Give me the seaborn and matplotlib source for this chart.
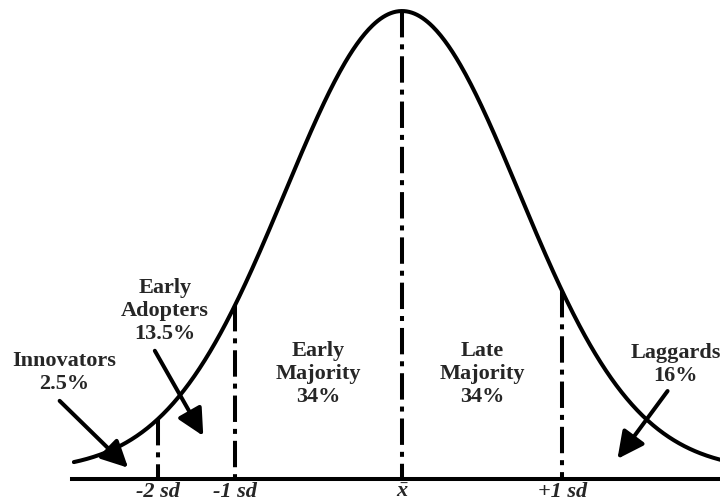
import numpy as np
import matplotlib
matplotlib.use("Agg")
import matplotlib.pyplot as plt
import seaborn as sns

# adopter categories (Rogers diffusion curve)
group_labels = ["Innovators\n2.5%", "Early\nAdopters\n13.5%", "Early\nMajority\n34%",
                "Late\nMajority\n34%", "Laggards\n16%"]
group_x = [-2.02, -1.42, -0.50, 0.48, 1.64]
group_y = [0.227, 0.360, 0.225, 0.225, 0.244]

# boundary marks on the axis (in "label sd" units)
mark_x = [-1.46, -1.0, 0.0, 0.96]
mark_labels = ["-2 sd", "-1 sd", r"$\bar{x}$", "+1 sd"]

# curve parameters
curve_mean = 0.0
curve_sd = 0.70
curve_floor = 0.017
curve_left = -1.965
curve_right = 1.95

# arrows: (start, tip)
arrow_start = [(-2.05, 0.167), (-1.48, 0.274), (1.59, 0.188)]
arrow_tip = [(-1.64, 0.024), (-1.19, 0.092), (1.29, 0.043)]

sns.set_style("white")
plt.rcParams["font.family"] = ["Liberation Serif", "DejaVu Serif"]
plt.rcParams["mathtext.fontset"] = "custom"
plt.rcParams["mathtext.it"] = "Liberation Serif:italic:bold"
plt.rcParams["mathtext.rm"] = "Liberation Serif:bold"
plt.rcParams["lines.scale_dashes"] = False

LW = 2.9
DASHDOT = (0, (19, 5, 3.6, 5))


def curve(x):
    return curve_floor + (1 - curve_floor) * np.exp(-0.5 * ((x - curve_mean) / curve_sd) ** 2)


fig = plt.figure(figsize=(7.2, 5.04), dpi=100)
ax = fig.add_axes([0.1, (504 - 479) / 504, 0.9, 479 / 504])

xs = np.linspace(curve_left, curve_right, 500)
sns.lineplot(x=xs, y=curve(xs), ax=ax, color="black", linewidth=LW)

for mx in mark_x:
    ax.plot([mx, mx], [curve(mx), 0], color="black", linewidth=LW, linestyle=DASHDOT,
            solid_capstyle="butt", dash_capstyle="butt")

for (sx, sy), (tx, ty) in zip(arrow_start, arrow_tip):
    ax.annotate("", xy=(tx, ty), xytext=(sx, sy),
                arrowprops=dict(arrowstyle="-|>,head_length=0.9,head_width=0.45",
                                mutation_scale=18, color="black", lw=LW,
                                shrinkA=0, shrinkB=0),
                annotation_clip=False)

for lab, gx, gy in zip(group_labels, group_x, group_y):
    ax.text(gx, gy, lab, ha="center", va="center", fontsize=16, fontweight="bold",
            clip_on=False)

ax.set_xlim(-1.976, 1.904)
ax.set_ylim(0, 1.0236)
ax.set_xticks(mark_x)
ax.set_xticklabels(mark_labels, fontsize=16, fontweight="bold", fontstyle="italic")
ax.tick_params(axis="x", length=0, pad=2)
ax.set_yticks([])
for side in ["left", "top", "right"]:
    ax.spines[side].set_visible(False)
ax.spines["bottom"].set_linewidth(LW)
ax.spines["bottom"].set_color("black")
ax.patch.set_alpha(0)

fig.savefig("out.png", dpi=100)
